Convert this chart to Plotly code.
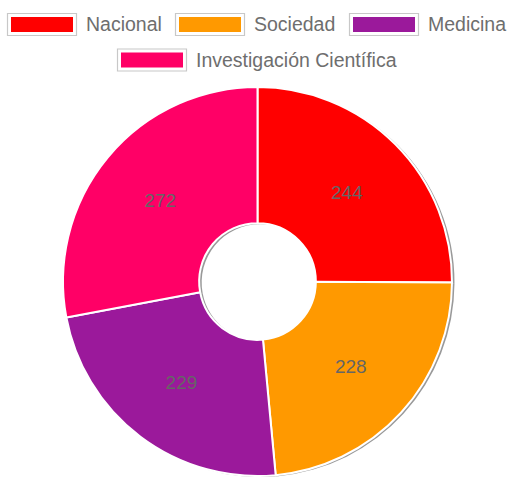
import plotly.graph_objects as go

categories = ["Nacional", "Sociedad", "Medicina", "Investigación Científica"]
values = [244, 228, 229, 272]
colors = ["#FF0000", "#FF9900", "#9B199B", "#FF0066"]

W, H = 509, 477
cx, cy, R = 257.5, 281.5, 194.5
hole = 0.30

def clamp(v):
    return min(1.0, max(0.0, v))

def px_dom(x0, x1, y0, y1):
    return dict(x=[clamp(x0 / W), clamp(x1 / W)], y=[clamp(1 - y1 / H), clamp(1 - y0 / H)])

fig = go.Figure()
# soft shadow
fig.add_trace(go.Pie(
    labels=categories, values=values, sort=False, hole=hole, direction="clockwise",
    domain=px_dom(cx - R + 2.5, cx + R + 2.5, cy - R + 1, cy + R + 1),
    marker=dict(colors=["rgba(70,70,70,0.55)"] * 4, line=dict(width=0)),
    textinfo="none", hoverinfo="skip", showlegend=False,
))
fig.add_trace(go.Pie(
    labels=categories, values=values, sort=False, hole=hole, direction="clockwise",
    domain=px_dom(cx - R, cx + R, cy - R, cy + R),
    marker=dict(colors=colors, line=dict(color="white", width=2)),
    textinfo="value", textposition="inside", insidetextorientation="horizontal",
    textfont=dict(color="#666666", size=19, family="Liberation Sans, Arial"),
    showlegend=False,
))

# legend drawn manually (wide boxes like the original)
legend_x = [11, 179, 353, 121]      # left edge of each coloured box (px)
legend_y = [24.5, 24.5, 24.5, 60]   # vertical centre of each row (px)
box_w, box_h, gap_t = 62, 15, 11
font_sz = 19.5
shapes, annots = [], []
for i, name in enumerate(categories):
    x, y = legend_x[i], legend_y[i]
    shapes.append(dict(type="rect", xref="paper", yref="paper",
                       x0=(x - 3.5) / W, x1=(x + box_w + 3.5) / W,
                       y0=1 - (y + box_h / 2 + 3.5) / H, y1=1 - (y - box_h / 2 - 3.5) / H,
                       fillcolor="white", line=dict(color="#C8C8C8", width=1.2)))
    shapes.append(dict(type="rect", xref="paper", yref="paper",
                       x0=x / W, x1=(x + box_w) / W,
                       y0=1 - (y + box_h / 2) / H, y1=1 - (y - box_h / 2) / H,
                       fillcolor=colors[i], line=dict(width=0)))
    annots.append(dict(xref="paper", yref="paper", x=(x + box_w + gap_t) / W,
                       y=1 - y / H, xanchor="left", yanchor="middle",
                       text=name, showarrow=False,
                       font=dict(size=font_sz, color="#6E6E6E",
                                 family="Liberation Sans, Arial")))

fig.update_layout(
    width=W, height=H, margin=dict(l=0, r=0, t=0, b=0),
    paper_bgcolor="white", plot_bgcolor="white",
    shapes=shapes, annotations=annots, showlegend=False,
)
fig.write_html("out.html",
               config={"displayModeBar": False},
               post_script="document.body.style.margin='0';document.body.style.overflow='hidden';")
